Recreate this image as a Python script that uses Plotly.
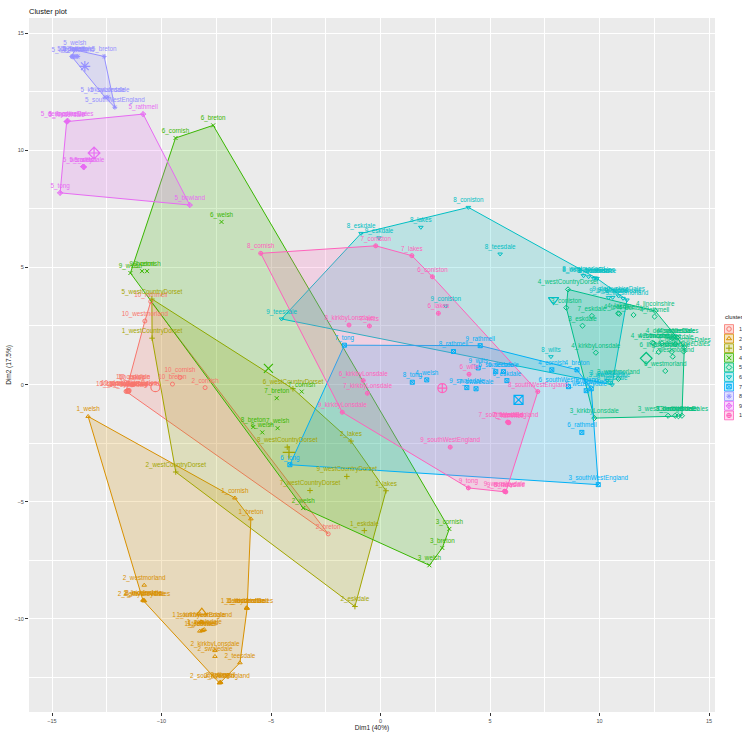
import plotly.graph_objects as go

# ---- data ----
clusters = ["1", "2", "3", "4", "5", "6", "7", "8", "9", "10"]
colors = ["#F8766D", "#D89000", "#A3A500", "#39B600", "#00BF7D",
          "#00BFC4", "#00B0F6", "#9590FF", "#E76BF3", "#FF62BC"]
symbols = ["circle-open", "triangle-up-open", "cross-thin-open", "x-thin-open", "diamond-open",
           "triangle-down-open", "square-x-open", "asterisk-open", "diamond-cross-open", "circle-cross-open"]

c1_labels = ["10_rathmell", "10_westmorland", "10_cornish", "10_breton", "2_cornish", "10_coniston",
             "10_eskdale", "10_lakes", "10_southWestEngland", "10_kirkbyLonsdale", "10_derbyshireDales",
             "10_lincolnshire", "10_nidderdale", "10_swaledale", "2_breton"]
c1_x = [-10.49, -10.76, -9.16, -9.50, -8.01, -11.30, -11.25, -11.35, -11.55, -11.62, -11.48,
        -11.58, -11.52, -11.50, -2.39]
c1_y = [3.54, 2.71, 0.30, 0.02, -0.13, 0.01, 0.03, -0.01, -0.27, -0.29, -0.25,
        -0.28, -0.26, -0.30, -6.37]

c2_labels = ["1_welsh", "1_cornish", "1_breton", "2_westmorland", "2_lincolnshire", "2_derbyshireDales",
             "2_nidderdale", "2_wensleydale", "1_lincolnshire", "1_derbyshireDales", "1_nidderdale",
             "1_westmorland", "1_kirkbyLonsdale", "1_southWestEngland", "1_teesdale", "1_swaledale",
             "1_rathmell", "1_bowland", "2_kirkbyLonsdale", "2_swaledale", "2_teesdale",
             "2_southWestEngland", "2_rathmell", "2_bowland", "2_tong"]
c2_x = [-13.35, -6.65, -5.92, -10.79, -10.85, -10.80, -10.82, -10.78, -6.12, -6.10, -6.11,
        -6.09, -8.20, -8.15, -8.25, -8.05, -8.15, -8.10, -7.56, -7.56, -6.42,
        -7.33, -7.30, -7.36, -7.32]
c2_y = [-1.36, -4.84, -5.73, -8.56, -9.20, -9.23, -9.19, -9.22, -9.53, -9.55, -9.52,
        -9.54, -10.12, -10.14, -10.52, -10.45, -10.50, -10.48, -11.35, -11.60, -11.87,
        -12.72, -12.70, -12.73, -12.71]

c3_labels = ["5_westCountryDorset", "1_westCountryDorset", "2_westCountryDorset", "6_westCountryDorset",
             "8_westCountryDorset", "9_westCountryDorset", "7_westCountryDorset", "2_lakes", "1_lakes",
             "1_eskdale", "2_eskdale"]
c3_x = [-10.44, -10.43, -9.35, -4.00, -4.26, -1.54, -3.22, -1.35, 0.25, -0.74, -1.17]
c3_y = [3.65, 1.98, -3.73, -0.18, -2.67, -3.92, -4.52, -2.41, -4.53, -6.23, -9.47]

c4_labels = ["6_cornish", "6_breton", "6_welsh", "9_welsh", "9_breton", "9_cornish", "7_breton",
             "7_cornish", "8_breton", "8_welsh", "7_welsh", "2_welsh", "3_cornish", "3_breton", "3_welsh"]
c4_x = [-9.36, -7.64, -7.26, -11.42, -10.89, -10.66, -4.74, -3.60, -5.81, -5.40, -4.70,
        -3.53, 3.14, 2.82, 2.23]
c4_y = [10.52, 11.06, 6.94, 4.76, 4.84, 4.84, -0.58, -0.30, -1.81, -2.04, -1.86,
        -5.27, -6.16, -6.97, -7.71]

c5_labels = ["4_westCountryDorset", "3_coniston", "7_eskdale", "3_eskdale", "4_kirkbyLonsdale",
             "4_lakes", "4_teesdale", "4_coniston", "4_lincolnshire", "4_rathmell",
             "4_derbyshireDales", "4_nidderdale", "4_swaledale", "4_bowland", "4_westmorland",
             "7_lincolnshire", "7_nidderdale", "7_derbyshireDales", "6_lincolnshire", "6_nidderdale",
             "6_derbyshireDales", "7_westmorland", "6_westmorland", "3_westmorland",
             "3_kirkbyLonsdale", "3_westCountryDorset", "3_lincolnshire", "3_nidderdale",
             "3_derbyshireDales"]
c5_x = [8.56, 8.48, 9.65, 9.22, 9.83, 10.85, 10.90, 11.55, 12.54, 12.51, 13.31, 13.54, 13.40,
        12.47, 12.40, 12.85, 13.46, 13.87, 12.70, 13.30, 13.84, 13.34, 13.00, 10.86, 9.76,
        13.13, 13.45, 13.60, 13.76]
c5_y = [4.06, 3.28, 2.93, 2.51, 1.36, 3.04, 3.02, 2.97, 3.14, 2.90, 1.98, 2.00, 1.99,
        1.76, 1.78, 1.76, 1.72, 1.59, 1.39, 1.40, 1.41, 1.19, 0.58, 0.24, -1.43,
        -1.33, -1.33, -1.35, -1.33]

c6_labels = ["9_teesdale", "8_eskdale", "9_eskdale", "8_lakes", "8_coniston", "8_teesdale",
             "9_coniston", "8_wilts", "8_westmorland", "8_derbyshireDales", "8_bowland",
             "8_nidderdale", "8_lincolnshire", "9_lincolnshire", "9_bowland", "9_derbyshireDales",
             "9_nidderdale", "9_westmorland", "3_swaledale", "3_wensleydale", "3_teesdale"]
c6_x = [-4.52, -0.89, -0.07, 1.84, 4.01, 5.46, 2.98, 7.78, 9.27, 9.50, 9.73, 9.80, 9.88,
        10.41, 10.60, 10.87, 11.07, 11.25, 10.35, 10.45, 10.57]
c6_y = [2.80, 6.45, 6.26, 6.71, 7.56, 5.57, 3.35, 1.19, 4.64, 4.60, 4.53, 4.55, 4.53,
        3.71, 3.72, 3.78, 3.68, 3.61, 0.18, 0.10, -0.01]

c7_labels = ["7_tong", "9_rathmell", "8_rathmell", "8_tong", "4_welsh", "9_swaledale", "7_swaledale",
             "9_wilts", "6_swaledale", "6_teesdale", "6_eskdale", "4_cornish", "4_breton",
             "6_southWestEngland", "6_wensleydale", "6_bowland", "6_rathmell", "3_southWestEngland",
             "6_tong"]
c7_x = [-1.65, 4.55, 3.33, 1.45, 2.11, 3.94, 4.36, 4.46, 5.26, 5.61, 5.77, 7.82, 8.97,
        8.58, 9.39, 9.62, 9.19, 9.94, -4.14]
c7_y = [1.68, 1.66, 1.41, 0.10, 0.20, -0.13, -0.18, 0.71, 0.55, 0.55, 0.17, 0.63, 0.63,
        -0.09, -0.26, -0.18, -2.04, -4.27, -3.42]

c8_labels = ["5_welsh", "5_eskdale", "5_lakes", "5_coniston", "5_westmorland", "5_teesdale",
             "5_breton", "5_kirkbyLonsdale", "5_swaledale", "5_southWestEngland"]
c8_x = [-13.96, -14.10, -14.00, -13.90, -14.05, -13.82, -12.62, -12.58, -12.45, -12.13]
c8_y = [14.28, 14.00, 14.00, 14.00, 13.98, 14.00, 14.00, 12.26, 12.26, 11.83]

c9_labels = ["5_derbyshireDales", "5_lincolnshire", "5_nidderdale", "5_rathmell", "5_wensleydale",
             "5_cornish", "5_wilts", "5_tong", "5_bowland"]
c9_x = [-14.31, -14.28, -14.33, -10.84, -13.56, -13.58, -13.54, -14.63, -8.71]
c9_y = [11.23, 11.25, 11.22, 11.54, 9.29, 9.30, 9.28, 8.18, 7.66]

c10_labels = ["8_cornish", "7_coniston", "7_lakes", "6_coniston", "6_lakes", "8_kirkbyLonsdale",
              "7_wilts", "6_kirkbyLonsdale", "7_kirkbyLonsdale", "9_kirkbyLonsdale",
              "9_southWestEngland", "6_wilts", "8_southWestEngland", "7_southWestEngland",
              "7_teesdale", "7_rathmell", "7_bowland", "9_tong", "9_lakes", "9_wensleydale",
              "9_borrowdale"]
c10_x = [-5.47, -0.22, 1.43, 2.37, 2.64, -1.44, -0.51, -0.79, -0.60, -1.75, 3.18, 4.04, 7.18,
         5.84, 5.80, 5.86, 5.82, 4.01, 5.69, 5.66, 5.72]
c10_y = [5.60, 5.92, 5.50, 4.60, 3.04, 2.54, 2.50, 0.17, -0.37, -1.18, -2.67, 0.44, -0.30,
         -1.62, -1.60, -1.63, -1.61, -4.41, -4.57, -4.55, -4.58]

# cluster centres as drawn in the picture
cent_x = [-10.28, -8.16, -4.18, -5.12, 12.13, 7.90, 6.30, -13.50, -13.08, 2.82]
cent_y = [-0.11, -9.73, -2.89, 0.69, 1.12, 3.61, -0.65, 13.58, 9.88, -0.15]

groups = [(c1_labels, c1_x, c1_y), (c2_labels, c2_x, c2_y), (c3_labels, c3_x, c3_y),
          (c4_labels, c4_x, c4_y), (c5_labels, c5_x, c5_y), (c6_labels, c6_x, c6_y),
          (c7_labels, c7_x, c7_y), (c8_labels, c8_x, c8_y), (c9_labels, c9_x, c9_y),
          (c10_labels, c10_x, c10_y)]

FONT = "Liberation Sans, Arial, sans-serif"


def rgba(hexcol, a):
    h = hexcol.lstrip("#")
    return "rgba(%d,%d,%d,%s)" % (int(h[0:2], 16), int(h[2:4], 16), int(h[4:6], 16), a)


def convex_hull(xs, ys):
    pts = sorted(set(zip(xs, ys)))
    if len(pts) < 3:
        return pts

    def cross(o, a, b):
        return (a[0] - o[0]) * (b[1] - o[1]) - (a[1] - o[1]) * (b[0] - o[0])

    lower, upper = [], []
    for p in pts:
        while len(lower) >= 2 and cross(lower[-2], lower[-1], p) <= 0:
            lower.pop()
        lower.append(p)
    for p in reversed(pts):
        while len(upper) >= 2 and cross(upper[-2], upper[-1], p) <= 0:
            upper.pop()
        upper.append(p)
    return lower[:-1] + upper[:-1]


fig = go.Figure()

# hulls
for i, (lab, xs, ys) in enumerate(groups):
    h = convex_hull(xs, ys)
    hx = [p[0] for p in h] + [h[0][0]]
    hy = [p[1] for p in h] + [h[0][1]]
    fig.add_trace(go.Scatter(x=hx, y=hy, mode="lines", fill="toself",
                             fillcolor=rgba(colors[i], 0.2),
                             line=dict(color=colors[i], width=1),
                             hoverinfo="skip", showlegend=False))

# points with labels
for i, (lab, xs, ys) in enumerate(groups):
    fig.add_trace(go.Scatter(x=xs, y=ys, mode="markers+text", text=lab,
                             textposition="top center",
                             textfont=dict(family=FONT, size=6.3, color=colors[i]),
                             marker=dict(symbol=symbols[i], size=4, color=colors[i],
                                         line=dict(width=1, color=colors[i])),
                             cliponaxis=False, showlegend=False, name=clusters[i]))

# cluster centres
for i in range(len(clusters)):
    fig.add_trace(go.Scatter(x=[cent_x[i]], y=[cent_y[i]], mode="markers",
                             marker=dict(symbol=symbols[i], size=9, color=colors[i],
                                         line=dict(width=1.2, color=colors[i])),
                             showlegend=False, hoverinfo="skip"))

# ---- hand-made legend on a helper axis (pixel units) ----
leg_y0, leg_step = 329, 9.6
for i, c in enumerate(clusters):
    cy = leg_y0 + i * leg_step
    fig.add_shape(type="rect", xref="x2", yref="y2", x0=724.5, x1=733.5, y0=cy - 4.4, y1=cy + 4.4,
                  fillcolor=rgba(colors[i], 0.25), line=dict(color=colors[i], width=0.8))
    fig.add_annotation(x=736.5, y=cy, xref="x2", yref="y2", text=c, showarrow=False,
                       xanchor="left", yanchor="middle", font=dict(family=FONT, size=5.5, color="#333333"))
fig.add_trace(go.Scatter(x=[729] * len(clusters), y=[leg_y0 + i * leg_step for i in range(len(clusters))],
                         xaxis="x2", yaxis="y2", mode="markers",
                         marker=dict(symbol=symbols, size=4.5, color=colors,
                                     line=dict(width=1, color=colors)),
                         showlegend=False, hoverinfo="skip"))
fig.add_annotation(x=723, y=317, xref="x2", yref="y2", text="cluster", showarrow=False,
                   xanchor="left", yanchor="middle", font=dict(family=FONT, size=6, color="#222222"))

# grey panel
fig.add_shape(type="rect", xref="x domain", yref="y domain", x0=0, x1=1, y0=0, y1=1,
              fillcolor="#EBEBEB", line=dict(width=0), layer="below")

axis_common = dict(showgrid=True, gridcolor="white", gridwidth=1, zeroline=False,
                   ticks="outside", ticklen=3, tickwidth=0.6, tickcolor="#333333",
                   tickfont=dict(family=FONT, size=5.5, color="#4D4D4D"),
                   minor=dict(dtick=2.5, showgrid=True, gridcolor="white", gridwidth=0.5),
                   showline=False, automargin=False)

fig.update_layout(
    width=742, height=733,
    margin=dict(l=29, r=0, t=18, b=21, autoexpand=False),
    paper_bgcolor="white", plot_bgcolor="white",
    title=dict(text="Cluster plot", x=29 / 742, xanchor="left", y=1 - 11.5 / 733, yanchor="middle",
               font=dict(family=FONT, size=7.5, color="#111111")),
    xaxis=dict(domain=[0, 686 / 713], range=[-16.05, 15.27], tickvals=[-15, -10, -5, 0, 5, 10, 15],
               title=dict(text="Dim1 (40%)", font=dict(family=FONT, size=6.5, color="#222222"), standoff=1),
               **axis_common),
    yaxis=dict(range=[-13.97, 15.64], tickvals=[-10, -5, 0, 5, 10, 15],
               title=dict(text="Dim2 (17.5%)", font=dict(family=FONT, size=6.5, color="#222222"), standoff=2),
               **axis_common),
    xaxis2=dict(domain=[686 / 713, 1], range=[715, 742], visible=False, anchor="y2", automargin=False),
    yaxis2=dict(domain=[0, 1], range=[712, 18], visible=False, anchor="x2", automargin=False),
    showlegend=False,
)

# the page's default body margin would shift the figure by 8px
fig.write_html("out.html", config={"displayModeBar": False},
               post_script="document.body.style.margin='0px';")
